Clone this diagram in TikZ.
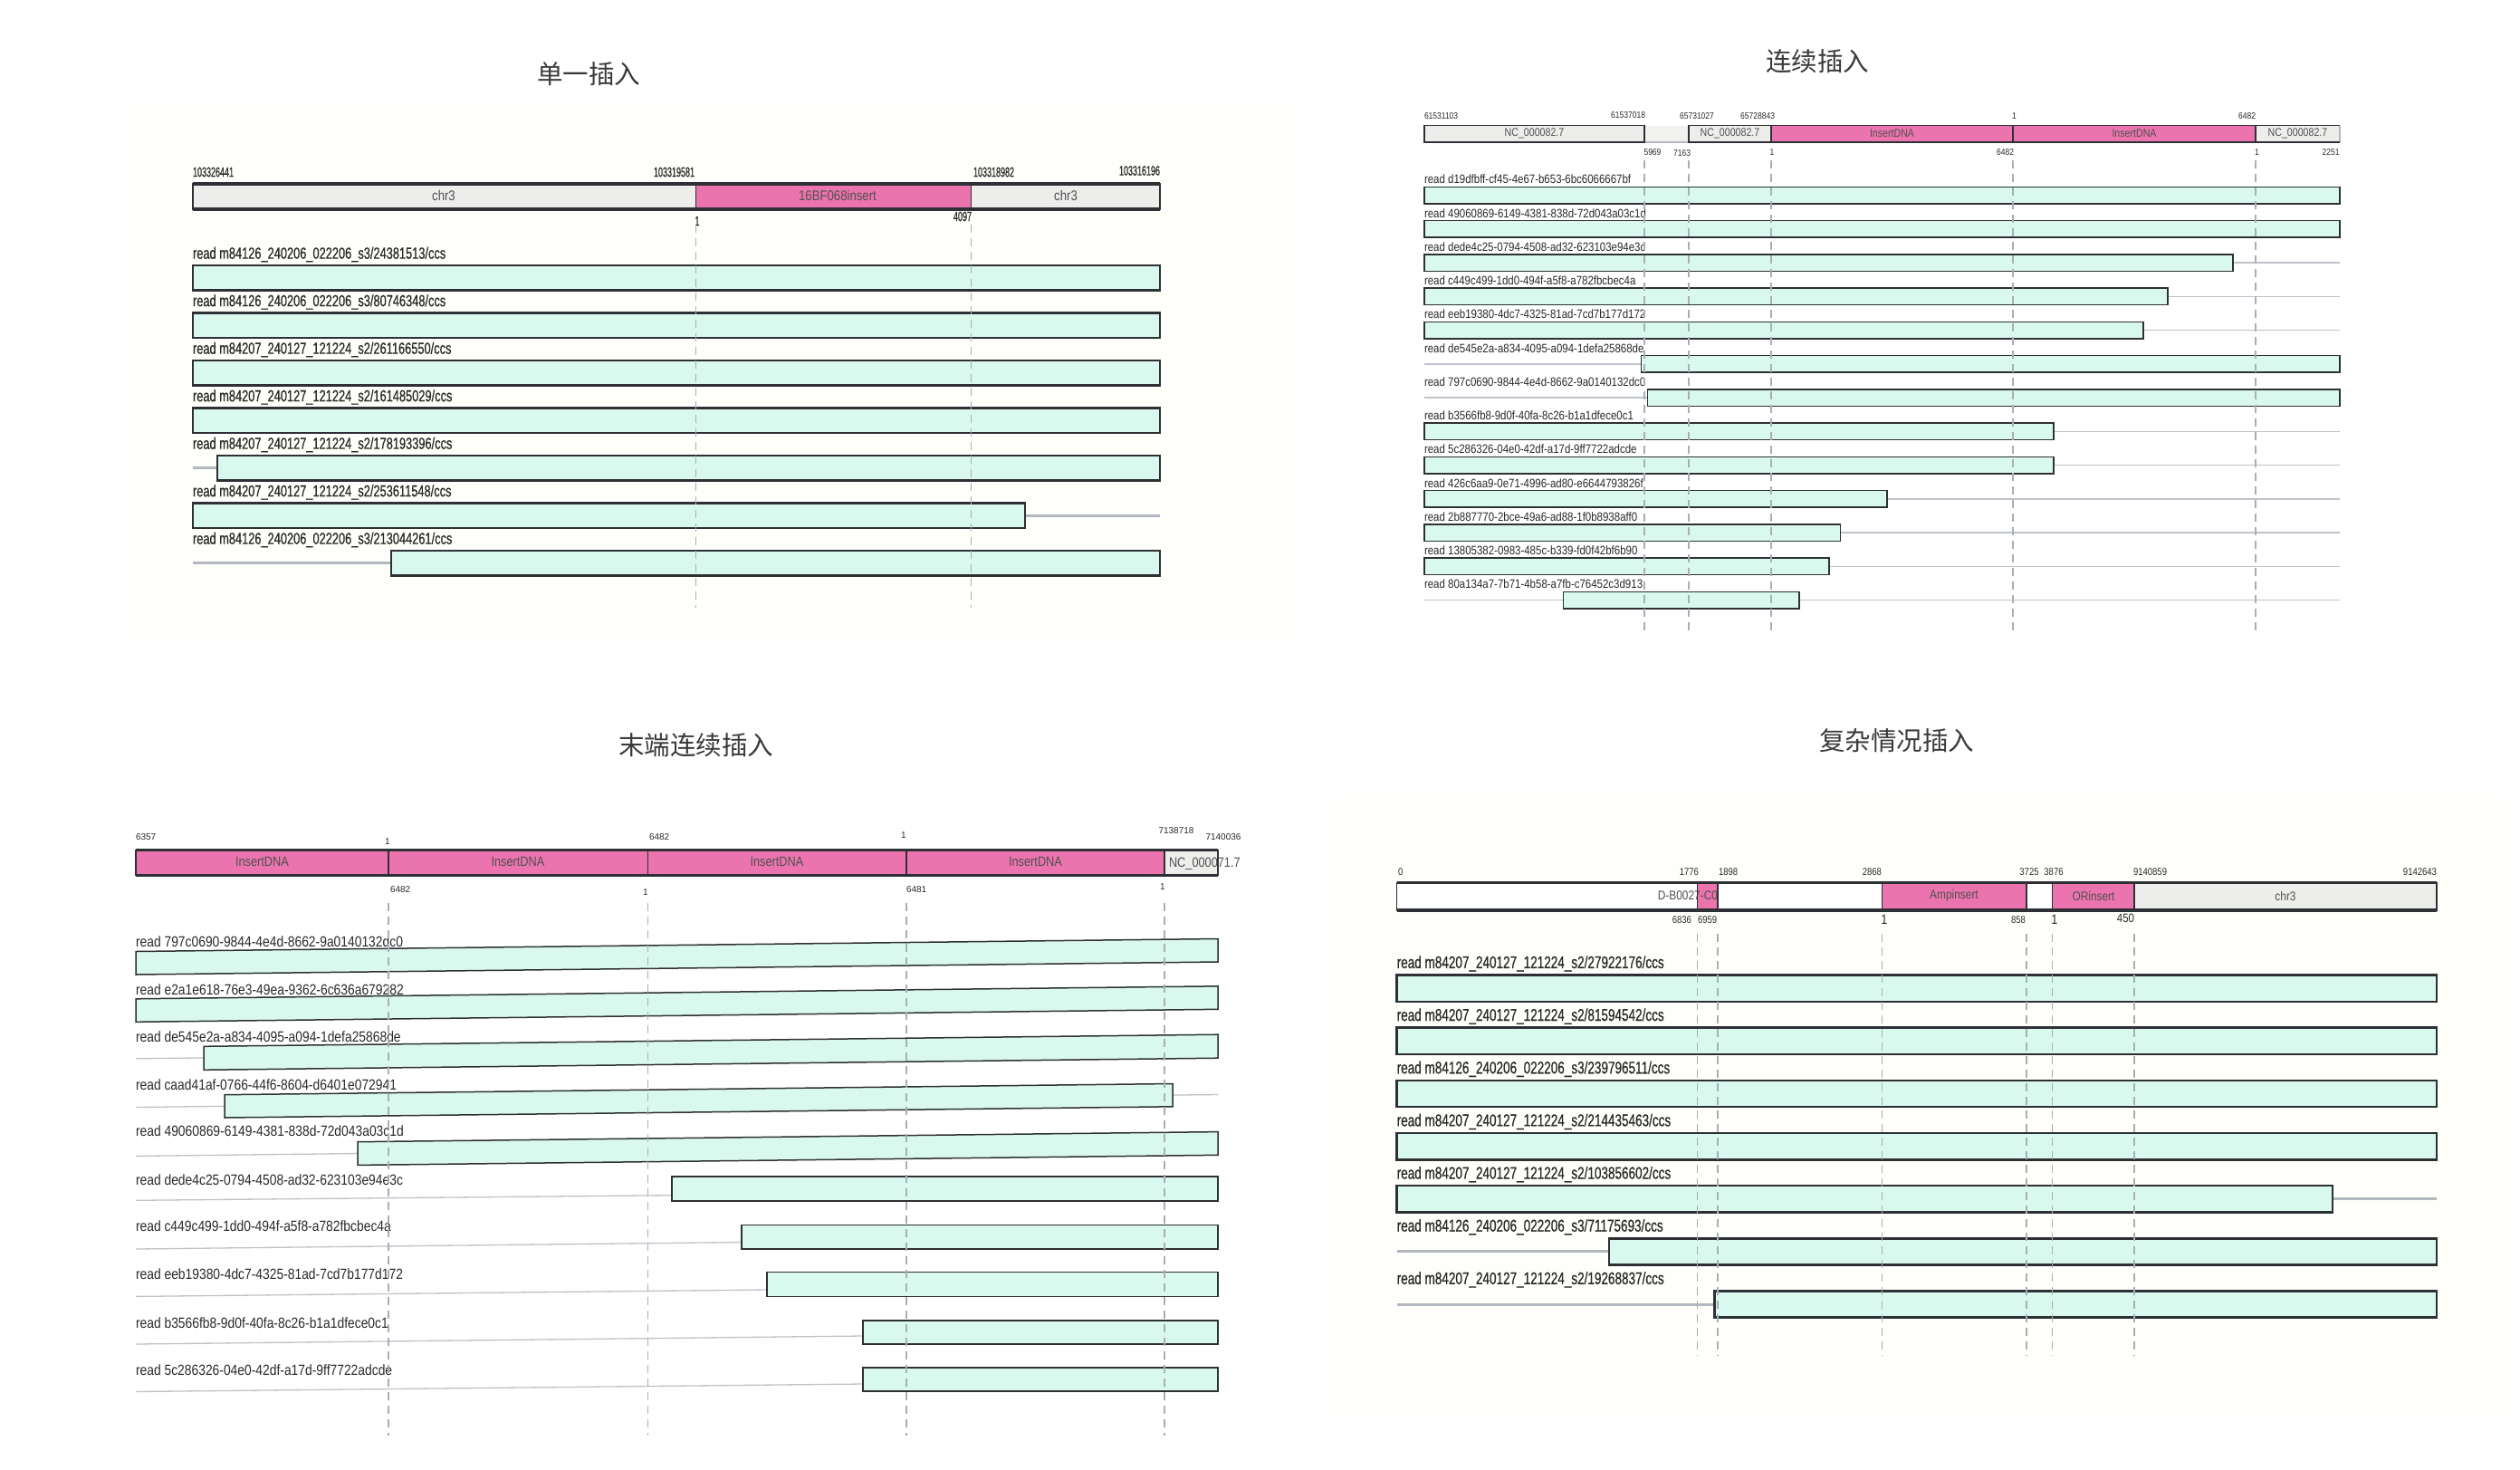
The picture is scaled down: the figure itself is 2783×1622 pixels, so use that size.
\documentclass[tikz,border=0pt]{standalone}
\usepackage{fontspec}
\setmainfont{Liberation Sans}
\newfontfamily\cjkfont{Noto Sans CJK SC}
\newfontfamily\nrwfont[FakeStretch=0.85]{Liberation Sans}
\newfontfamily\cndfont[FakeStretch=0.72,FakeBold=0.6]{Liberation Sans}
\newfontfamily\cndxfont[FakeStretch=0.6,FakeBold=0.6]{Liberation Sans}
\newcommand\myfs[1]{\fontsize{#1}{#1}\selectfont}
\definecolor{dk}{HTML}{2D3034}
\definecolor{mint}{HTML}{DAF9EE}
\definecolor{pinkseg}{HTML}{EB74AE}
\definecolor{gseg}{HTML}{EDEEEC}
\definecolor{gapc}{HTML}{F1F1EF}
\definecolor{glc}{HTML}{B3B7BF}
\definecolor{dashc}{HTML}{A9AEB6}
\definecolor{cream}{HTML}{FEFEFA}
\definecolor{titlec}{HTML}{3A3A3A}
\definecolor{txt}{HTML}{2A2A2A}
\definecolor{segtxt}{HTML}{505050}
\newcommand\rowA[4]{%
  \pgfmathsetmacro\rowy{281+52.5*(#1-1)}
  \draw[glA] (213,\rowy+25.75) -- (1281,\rowy+25.75);
  \draw[barA] (#3,\rowy+12) rectangle (#4,\rowy+39.5);
  \node[lblA] (rA#1) at (213,\rowy) {#2};}
\newcommand\rowB[4]{%
  \pgfmathsetmacro\rowy{198+37.25*(#1-1)}
  \draw[glB] (1573,\rowy+17.55) -- (2584,\rowy+17.55);
  \draw[barB] (#3,\rowy+8.3) rectangle (#4,\rowy+26.8);
  \node[lblB] (rB#1) at (1573,\rowy) {#2};}
\newcommand\rowD[4]{%
  \pgfmathsetmacro\rowy{1064+58.15*(#1-1)}
  \draw[glD] (1542.7,\rowy+27.15) -- (2691,\rowy+27.15);
  \draw[barD] (#3,\rowy+12.5) rectangle (#4,\rowy+41.8);
  \node[lblD] (rD#1) at (1542.7,\rowy) {#2};}
\begin{document}
\begin{tikzpicture}[x=1pt,y=-1pt,
  every node/.style={inner sep=0pt,outer sep=0pt},
  ttl/.style={font=\cjkfont\myfs{28.5},text=titlec},
  vdash/.style={draw=dashc,line width=1.2,dash pattern=on 9pt off 6pt},
  lblA/.style={font=\cndfont\myfs{17.8},text=txt,anchor=west},
  lblB/.style={font=\nrwfont\myfs{13.5},text=txt,anchor=west},
  lblC/.style={font=\nrwfont\myfs{16.3},text=txt,anchor=west},
  lblD/.style={font=\cndfont\myfs{18.8},text=txt,anchor=west},
  numA/.style={font=\cndxfont\myfs{15},text=txt},
  numB/.style={font=\nrwfont\myfs{10},text=txt},
  numC/.style={font=\myfs{10},text=txt},
  numD/.style={font=\nrwfont\myfs{11.2},text=txt},
  segA/.style={font=\nrwfont\myfs{15.5},text=segtxt},
  segB/.style={font=\nrwfont\myfs{12.5},text=segtxt},
  segC/.style={font=\nrwfont\myfs{15},text=segtxt},
  segD/.style={font=\nrwfont\myfs{14},text=segtxt},
  barA/.style={fill=mint,draw=dk,line width=2.4},
  barB/.style={fill=mint,draw=dk,line width=1.5},
  barC/.style={fill=mint,draw=dk,line width=1.5},
  barD/.style={fill=mint,draw=dk,line width=2.6},
  glA/.style={draw=glc,line width=3},
  glB/.style={draw=glc!85,line width=1.5},
  glC/.style={draw=glc!85,line width=1.3},
  glD/.style={draw=glc,line width=3}]
\useasboundingbox (0,0) rectangle (2783,1622);
\fill[white] (0,0) rectangle (2783,1622);

% ================= Panel A =================
\fill[cream] (152,112) rectangle (1425,708);
\node[ttl] (tA) at (650,81.6) {单一插入};
\fill[gseg] (213,203) rectangle (768.2,231);
\fill[pinkseg] (768.2,203) rectangle (1072.6,231);
\fill[gseg] (1072.6,203) rectangle (1281,231);
\draw[dk,line width=1.2] (213,203) rectangle (1281,231)
  (768.2,203) -- (768.2,231) (1072.6,203) -- (1072.6,231);
\draw[dk,line width=3.2] (213,203) -- (1281,203) (213,231) -- (1281,231);
\node[segA] (hA1) at (490,216) {chr3};
\node[segA] (hA2) at (925,216) {16BF068insert};
\node[segA] (hA3) at (1177,216) {chr3};
\node[numA,anchor=west] (nA1) at (213,190) {103326441};
\node[numA,anchor=east] (nA2) at (767,190) {103319581};
\node[numA,anchor=west] (nA3) at (1075,190) {103318982};
\node[numA,anchor=east] (nA4) at (1281,188.5) {103316196};
\node[numA] (nA5) at (770,244) {1};
\node[numA,anchor=east] (nA6) at (1073,239) {4097};
\rowA{1}{read m84126\_240206\_022206\_s3/24381513/ccs}{213}{1281}
\rowA{2}{read m84126\_240206\_022206\_s3/80746348/ccs}{213}{1281}
\rowA{3}{read m84207\_240127\_121224\_s2/261166550/ccs}{213}{1281}
\rowA{4}{read m84207\_240127\_121224\_s2/161485029/ccs}{213}{1281}
\rowA{5}{read m84207\_240127\_121224\_s2/178193396/ccs}{240}{1281}
\rowA{6}{read m84207\_240127\_121224\_s2/253611548/ccs}{213}{1132}
\rowA{7}{read m84126\_240206\_022206\_s3/213044261/ccs}{432}{1281}
\draw[vdash] (768.2,248) -- (768.2,671) (1072.6,248) -- (1072.6,671);

% ================= Panel B =================
\node[ttl] (tB) at (2007,68) {连续插入};
\fill[gseg] (1573,138.5) rectangle (1816,157);
\fill[gapc] (1816,138.5) rectangle (1865,157);
\fill[gseg] (1865,138.5) rectangle (1956,157);
\fill[pinkseg] (1956,138.5) rectangle (2491,157);
\fill[gseg] (2491,138.5) rectangle (2584,157);
\draw[glc,line width=1.2] (1816,157) -- (1865,157);
\draw[dk,line width=1.3] (1573,138.5) rectangle (1816,157)
  (1865,138.5) rectangle (2491,157)
  (1956,138.5) -- (1956,157) (2223,138.5) -- (2223,157)
  (2491,138.5) -- (2584,138.5);
\draw[glc,line width=1.3] (2584,138.5) -- (2584,157);
\draw[dk,line width=2.2] (1573,157) -- (1816,157) (1865,157) -- (2584,157);
\node[segB] (hB1) at (1694.5,147.5) {NC\_000082.7};
\node[segB] (hB2) at (1910.5,147.5) {NC\_000082.7};
\node[segB] (hB3) at (2089.5,147.5) {InsertDNA};
\node[segB] (hB4) at (2357,147.5) {InsertDNA};
\node[segB] (hB5) at (2537.5,147.5) {NC\_000082.7};
\node[numB,anchor=west] (nB1) at (1573,128.5) {61531103};
\node[numB,anchor=east] (nB2) at (1817,126.7) {61537018};
\node[numB] (nB3) at (1874,128.5) {65731027};
\node[numB,anchor=east] (nB4) at (1960,128.5) {65728843};
\node[numB] (nB5) at (2224.5,128.5) {1};
\node[numB,anchor=east] (nB6) at (2491,128.5) {6482};
\node[numB,anchor=west] (nB7) at (1815.5,168) {5969};
\node[numB,anchor=east] (nB8) at (1867,169) {7163};
\node[numB] (nB9) at (1957,168.5) {1};
\node[numB,anchor=east] (nB10) at (2224,168.5) {6482};
\node[numB] (nB11) at (2492.5,168.5) {1};
\node[numB,anchor=east] (nB12) at (2583.5,168.5) {2251};
\rowB{1}{read d19dfbff-cf45-4e67-b653-6bc6066667bf}{1573}{2584}
\rowB{2}{read 49060869-6149-4381-838d-72d043a03c1d}{1573}{2584}
\rowB{3}{read dede4c25-0794-4508-ad32-623103e94e3c}{1573}{2466}
\rowB{4}{read c449c499-1dd0-494f-a5f8-a782fbcbec4a}{1573}{2394}
\rowB{5}{read eeb19380-4dc7-4325-81ad-7cd7b177d172}{1573}{2367}
\rowB{6}{read de545e2a-a834-4095-a094-1defa25868de}{1812.5}{2584}
\rowB{7}{read 797c0690-9844-4e4d-8662-9a0140132dc0}{1819.5}{2584}
\rowB{8}{read b3566fb8-9d0f-40fa-8c26-b1a1dfece0c1}{1573}{2268}
\rowB{9}{read 5c286326-04e0-42df-a17d-9ff7722adcde}{1573}{2268}
\rowB{10}{read 426c6aa9-0e71-4996-ad80-e6644793826f}{1573}{2084}
\rowB{11}{read 2b887770-2bce-49a6-ad88-1f0b8938aff0}{1573}{2032.5}
\rowB{12}{read 13805382-0983-485c-b339-fd0f42bf6b90}{1573}{2020}
\rowB{13}{read 80a134a7-7b71-4b58-a7fb-c76452c3d913}{1726.6}{1987}
\draw[vdash] (1816,177) -- (1816,699) (1865,177) -- (1865,699)
  (1956,177) -- (1956,699) (2223,177) -- (2223,699) (2491,177) -- (2491,699);

% ================= Panel C =================
\node[ttl] (tC) at (768.5,823) {末端连续插入};
\fill[pinkseg] (150,938.5) rectangle (1286,966.5);
\fill[gseg] (1286,938.5) rectangle (1345,966.5);
\node[segC] (hC1) at (289.5,951) {InsertDNA};
\node[segC] (hC2) at (572,951) {InsertDNA};
\node[segC] (hC3) at (858,951) {InsertDNA};
\node[segC] (hC4) at (1143.5,951) {InsertDNA};
\node[segC,anchor=west] (hC5) at (1291,954) {NC\_000071.7};
\draw[dk,line width=1.3] (150,938.5) rectangle (1345,966.5)
  (429,938.5) -- (429,966.5) (715.5,938.5) -- (715.5,966.5)
  (1001,938.5) -- (1001,966.5) (1286,938.5) -- (1286,966.5);
\draw[dk,line width=2.4] (150,938.5) -- (1345,938.5) (150,966.5) -- (1345,966.5);
\node[numC,anchor=west] (nC1) at (150,924) {6357};
\node[numC] (nC2) at (428,929) {1};
\node[numC,anchor=west] (nC3) at (717,924) {6482};
\node[numC] (nC4) at (998,922) {1};
\node[numC] (nC5) at (1299,917) {7138718};
\node[numC] (nC6) at (1351,924) {7140036};
\node[numC,anchor=west] (nC7) at (431,982) {6482};
\node[numC] (nC8) at (713,985.5) {1};
\node[numC,anchor=west] (nC9) at (1001,982) {6481};
\node[numC] (nC10) at (1284,979) {1};
% gray lines
\draw[glC] (150,1168.8) -- (1345,1154.8);
\draw[glC] (150,1222.5) -- (1345,1208.5);
\draw[glC] (150,1276.4) -- (1345,1262.4);
\draw[glC] (150,1325.3) -- (742,1319.7);
\draw[glC] (150,1379) -- (819,1371.5);
\draw[glC] (150,1431.4) -- (847,1424);
\draw[glC] (150,1484) -- (953,1475);
\draw[glC] (150,1536.5) -- (953,1528);
% bars
\draw[barC] (150,1050.5) -- (1345,1036.5) -- (1345,1062) -- (150,1076) -- cycle;
\draw[barC] (150,1102.8) -- (1345,1088.8) -- (1345,1114.3) -- (150,1128.3) -- cycle;
\draw[barC] (225,1155.3) -- (1345,1142.2) -- (1345,1168.2) -- (225,1181.3) -- cycle;
\draw[barC] (248,1208.7) -- (1295,1196.5) -- (1295,1221.8) -- (248,1234) -- cycle;
\draw[barC] (395,1260.7) -- (1345,1249.6) -- (1345,1275.3) -- (395,1286.4) -- cycle;
\draw[barC] (742,1299) rectangle (1345,1326);
\draw[barC] (819,1352.7) rectangle (1345,1378.8);
\draw[barC] (847,1404.5) rectangle (1345,1431.7);
\draw[barC] (953,1457.8) rectangle (1345,1484);
\draw[barC] (953,1510) rectangle (1345,1536);
\node[lblC] (rC1) at (150,1039.3) {read 797c0690-9844-4e4d-8662-9a0140132dc0};
\node[lblC] (rC2) at (150,1092.5) {read e2a1e618-76e3-49ea-9362-6c636a679282};
\node[lblC] (rC3) at (150,1144.5) {read de545e2a-a834-4095-a094-1defa25868de};
\node[lblC] (rC4) at (150,1197.5) {read caad41af-0766-44f6-8604-d6401e072941};
\node[lblC] (rC5) at (150,1249) {read 49060869-6149-4381-838d-72d043a03c1d};
\node[lblC] (rC6) at (150,1302.3) {read dede4c25-0794-4508-ad32-623103e94e3c};
\node[lblC] (rC7) at (150,1354) {read c449c499-1dd0-494f-a5f8-a782fbcbec4a};
\node[lblC] (rC8) at (150,1407) {read eeb19380-4dc7-4325-81ad-7cd7b177d172};
\node[lblC] (rC9) at (150,1460.5) {read b3566fb8-9d0f-40fa-8c26-b1a1dfece0c1};
\node[lblC] (rC10) at (150,1512.5) {read 5c286326-04e0-42df-a17d-9ff7722adcde};
\draw[vdash] (429,997) -- (429,1585) (715.5,997) -- (715.5,1585)
  (1001,997) -- (1001,1585) (1286,997) -- (1286,1585);

% ================= Panel D =================
\fill[cream] (1473,879) rectangle (2769,1563);
\node[ttl] (tD) at (2094.5,818) {复杂情况插入};
\fill[white] (1542.7,974.6) rectangle (2691,1005);
\fill[pinkseg] (1874.3,974.6) rectangle (1897,1005);
\fill[pinkseg] (2078.5,974.6) rectangle (2238,1005);
\fill[pinkseg] (2266.7,974.6) rectangle (2357,1005);
\fill[gseg] (2357,974.6) rectangle (2691,1005);
\begin{scope}
\clip (1542.7,974.6) rectangle (1897,1005);
\node[segD,anchor=east] (hD1) at (1897,989) {D-B0027-C0};
\end{scope}
\node[segD] (hD2) at (2158,989) {Ampinsert};
\node[segD] (hD3) at (2312,989) {ORinsert};
\node[segD] (hD4) at (2524,989) {chr3};
\draw[dk,line width=1.3] (1542.7,974.6) rectangle (2691,1005)
  (1874.3,974.6) -- (1874.3,1005) (1897,974.6) -- (1897,1005)
  (2078.5,974.6) -- (2078.5,1005) (2238,974.6) -- (2238,1005)
  (2266.7,974.6) -- (2266.7,1005) (2357,974.6) -- (2357,1005);
\draw[dk,line width=3.5] (1542.7,974.6) -- (2691,974.6) (1542.7,1005) -- (2691,1005);
\node[numD,anchor=west] (nD1) at (1544,963) {0};
\node[numD,anchor=east] (nD2) at (1876,963) {1776};
\node[numD,anchor=west] (nD3) at (1898,963) {1898};
\node[numD,anchor=east] (nD4) at (2078,963) {2868};
\node[numD] (nD5) at (2241,963) {3725};
\node[numD] (nD6) at (2268,963) {3876};
\node[numD,anchor=west] (nD7) at (2356,963) {9140859};
\node[numD,anchor=east] (nD8) at (2691,963) {9142643};
\node[numD,anchor=east] (nD9) at (1868,1016) {6836};
\node[numD,anchor=west] (nD10) at (1875,1016) {6959};
\node[numD,font=\nrwfont\myfs{15}] (nD11) at (2081,1015) {1};
\node[numD,anchor=east] (nD12) at (2237,1016) {858};
\node[numD,font=\nrwfont\myfs{15}] (nD13) at (2269,1015) {1};
\node[numD,font=\nrwfont\myfs{13.5},anchor=east] (nD14) at (2357,1014) {450};
\rowD{1}{read m84207\_240127\_121224\_s2/27922176/ccs}{1542.7}{2691}
\rowD{2}{read m84207\_240127\_121224\_s2/81594542/ccs}{1542.7}{2691}
\rowD{3}{read m84126\_240206\_022206\_s3/239796511/ccs}{1542.7}{2691}
\rowD{4}{read m84207\_240127\_121224\_s2/214435463/ccs}{1542.7}{2691}
\rowD{5}{read m84207\_240127\_121224\_s2/103856602/ccs}{1542.7}{2576}
\rowD{6}{read m84126\_240206\_022206\_s3/71175693/ccs}{1777}{2691}
\rowD{7}{read m84207\_240127\_121224\_s2/19268837/ccs}{1893.7}{2691}
\draw[vdash] (1874.3,1031) -- (1874.3,1496.5) (1897,1031) -- (1897,1496.5)
  (2078.5,1031) -- (2078.5,1496.5) (2238,1031) -- (2238,1496.5)
  (2266.7,1031) -- (2266.7,1496.5) (2357,1031) -- (2357,1496.5);
\end{tikzpicture}
\end{document}
